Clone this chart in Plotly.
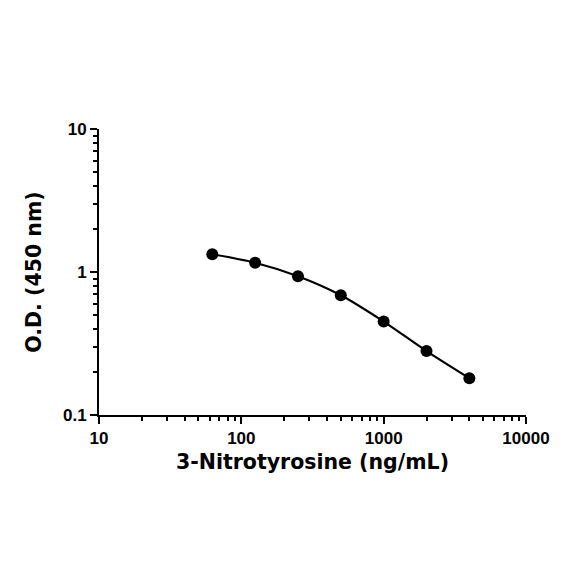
import plotly.graph_objects as go

conc = [62.5, 125, 250, 500, 1000, 2000, 4000]
od = [1.33, 1.16, 0.933, 0.687, 0.45, 0.28, 0.181]

x_ticks = [10, 100, 1000, 10000]
x_tick_labels = ["<b>10</b>", "<b>100</b>", "<b>1000</b>", "<b>10000</b>"]
x_minor = [m * d for d in (10, 100, 1000) for m in range(2, 10)]
y_ticks = [0.1, 1, 10]
y_tick_labels = ["<b>0.1</b>", "<b>1</b>", "<b>10</b>"]
y_minor = [m * d for d in (0.1, 1) for m in range(2, 10)]

fig = go.Figure()
fig.add_trace(go.Scatter(
    x=conc, y=od, mode="lines+markers",
    line=dict(color="black", width=2.2, shape="spline", smoothing=0.8),
    marker=dict(color="black", size=12),
    showlegend=False,
))

title_font = dict(family="DejaVu Sans, sans-serif", size=20.5, color="black")
tick_font = dict(family="Liberation Sans, Arial, sans-serif", size=17, color="black")

fig.update_xaxes(
    type="log", range=[1, 4], automargin=False,
    tickvals=x_ticks, ticktext=x_tick_labels,
    ticks="outside", ticklen=7, tickwidth=2, tickcolor="black",
    minor=dict(tickvals=x_minor, ticks="outside", ticklen=4, tickwidth=2, tickcolor="black", showgrid=False),
    showline=True, linewidth=2, linecolor="black",
    showgrid=False, zeroline=False,
    tickfont=tick_font,
    title=dict(text="<b>3-Nitrotyrosine (ng/mL)</b>", font=title_font, standoff=7),
)
fig.update_yaxes(
    type="log", range=[-1, 1], automargin=False,
    tickvals=y_ticks, ticktext=y_tick_labels,
    ticks="outside", ticklen=7, tickwidth=2, tickcolor="black",
    minor=dict(tickvals=y_minor, ticks="outside", ticklen=4, tickwidth=2, tickcolor="black", showgrid=False),
    showline=True, linewidth=2, linecolor="black",
    showgrid=False, zeroline=False,
    tickfont=tick_font,
    title=dict(text="<b>O.D. (450 nm)</b>", font=title_font, standoff=16),
)
fig.update_layout(
    width=584, height=584,
    margin=dict(l=91, r=66, t=121, b=177),
    paper_bgcolor="white", plot_bgcolor="white",
)
fig.write_html("out.html")
